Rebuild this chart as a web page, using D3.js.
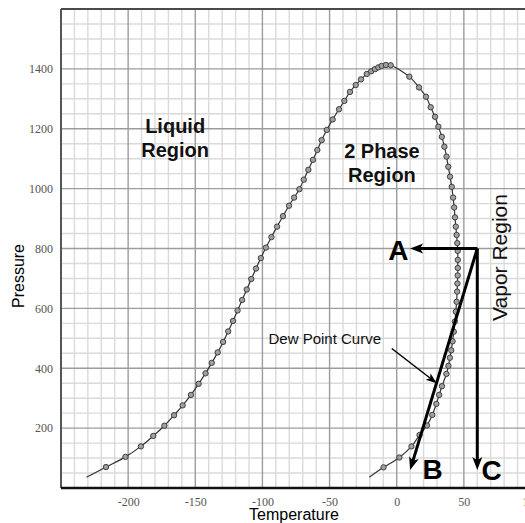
<!DOCTYPE html>
<html>
<head>
<meta charset="utf-8">
<script src="https://cdn.jsdelivr.net/npm/d3@7"></script>
<style>
  body { margin: 0; background: #fff; }
  svg { display: block; }
</style>
</head>
<body>
<svg width="525" height="523"></svg>
<script>
// phase envelope (bubble side, over the top, dew side)
const envelopeT = [
  -231, -216.5, -202, -190.5, -181.3, -173, -165.8, -159.4, -153.2, -147.5,
  -142.4, -137.7, -133.3, -129.3, -125.5, -121.9, -118.5, -115.1, -111.7, -108.3,
  -104.8, -101.2, -97.4, -93.3, -89.1, -84.7, -80.2, -76.4, -72.5, -69.2,
  -65.8, -62.4, -59.1, -55.9, -52.1, -47.7, -43, -39, -34.8, -30.5,
  -26.6, -22.3, -19, -16.2, -13.7, -11.2, -8, -4.5,
  9.4, 16.6, 21.8, 25.3, 28.5, 31, 33.6, 35.5, 37.1, 38.4,
  39.7, 41, 42, 42.8, 43.4, 44, 44.6, 45.1, 45.4, 45.5,
  45.5, 45.4, 45.2, 45, 44.6, 44, 43.3, 42.5, 41.6, 40.6,
  39.6, 38.5, 37, 33.7, 31.6, 29.5, 26.5, 22.5, 17, 11,
  2, -9.8, -20.4
];
const envelopeP = [
  36, 70, 104, 139, 174, 208, 243, 276, 311, 348,
  383, 418, 453, 488, 523, 558, 593, 628, 663, 698,
  733, 768, 803, 838, 873, 908, 943, 970, 998, 1030,
  1063, 1096, 1129, 1162, 1196, 1231, 1265, 1293, 1323, 1346,
  1365, 1383, 1392, 1399, 1405, 1410, 1413, 1412,
  1374, 1338, 1307, 1272, 1240, 1207, 1173, 1140, 1107, 1073,
  1040, 1006, 970, 937, 904, 873, 845, 818, 792, 762,
  735, 710, 683, 656, 622, 589, 556, 522, 490, 460,
  435, 408, 381, 340, 311, 281, 244, 209, 177, 139,
  102, 69, 36
];

const xTicks = [-200, -150, -100, -50, 0, 50, 100];
const yTicks = [200, 400, 600, 800, 1000, 1200, 1400];

// process arrows from the starting point (T, P)
const arrowStart = [60, 800];
const arrowEnds = [[10, 800], [10, 60], [60, 60]];
const arrowLetters = ['A', 'B', 'C'];
const letterPos = [[1.2, 762], [26.7, 29], [70.7, 27]];

const regionNames = [['Liquid', 'Region'], ['2 Phase', 'Region']];
const regionPos = [[-165, 1186], [-11, 1103]];

const dewLabel = 'Dew Point Curve';
const dewLabelPos = [-95.5, 480];
const dewPointer = [[-3.7, 466], [29.8, 350]];

var svg = d3.select('svg'),
    x = d3.scaleLinear().domain([-250, 100]).range([61, 531]),
    y = d3.scaleLinear().domain([0, 1600]).range([488, 9]);

const grid = svg.append('g');

// minor grid
grid.selectAll('.vx').data(d3.range(-250, 101, 10).filter(d => d % 50)).enter()
  .append('line')
  .attr('x1', d => x(d)).attr('x2', d => x(d))
  .attr('y1', y(0)).attr('y2', y(1600))
  .attr('stroke', '#dadada').attr('stroke-width', 1.4);
grid.selectAll('.hy').data(d3.range(0, 1601, 50).filter(d => d % 200)).enter()
  .append('line')
  .attr('y1', d => y(d)).attr('y2', d => y(d))
  .attr('x1', x(-250)).attr('x2', x(100))
  .attr('stroke', '#dadada').attr('stroke-width', 1.4);

// major grid
grid.selectAll('.mx').data(d3.range(-200, 101, 50)).enter()
  .append('line')
  .attr('x1', d => x(d)).attr('x2', d => x(d))
  .attr('y1', y(0)).attr('y2', y(1600))
  .attr('stroke', '#9c9c9c').attr('stroke-width', 1.4);
grid.selectAll('.my').data(d3.range(200, 1601, 200)).enter()
  .append('line')
  .attr('y1', d => y(d)).attr('y2', d => y(d))
  .attr('x1', x(-250)).attr('x2', x(100))
  .attr('stroke', '#9c9c9c').attr('stroke-width', 1.4);

// frame
svg.append('line').attr('x1', x(-250)).attr('x2', x(100)).attr('y1', y(1600)).attr('y2', y(1600))
  .attr('stroke', '#4a4a4a').attr('stroke-width', 2.2);
svg.append('line').attr('x1', x(-250)).attr('x2', x(-250)).attr('y1', y(1600)).attr('y2', y(0))
  .attr('stroke', '#555').attr('stroke-width', 2);
svg.append('line').attr('x1', x(-250)).attr('x2', x(100)).attr('y1', y(0)).attr('y2', y(0))
  .attr('stroke', '#111').attr('stroke-width', 2.5);

// axes
const xAxis = svg.append('g')
  .attr('transform', `translate(0,${y(0)})`)
  .call(d3.axisBottom(x).tickValues(xTicks).tickSize(0).tickPadding(9).tickFormat(d => String(d)));
const yAxis = svg.append('g')
  .attr('transform', `translate(${x(-250)},0)`)
  .call(d3.axisLeft(y).tickValues(yTicks).tickSize(0).tickPadding(8).tickFormat(d => String(d)));
[xAxis, yAxis].forEach(a => {
  a.select('.domain').remove();
  a.selectAll('text')
    .attr('fill', '#555')
    .style('font-family', '"Liberation Serif", "Times New Roman", serif')
    .style('font-size', '12px');
});

svg.append('text')
  .attr('x', 294).attr('y', 520)
  .attr('text-anchor', 'middle')
  .style('font-family', '"Liberation Sans", Arial, sans-serif')
  .style('font-size', '16px')
  .text('Temperature');
svg.append('text')
  .attr('transform', 'translate(24,276) rotate(-90)')
  .attr('text-anchor', 'middle')
  .style('font-family', '"Liberation Sans", Arial, sans-serif')
  .style('font-size', '16px')
  .text('Pressure');

// envelope
const pts = d3.zip(envelopeT, envelopeP);
const line = d3.line()
  .x(d => x(d[0]))
  .y(d => y(d[1]))
  .curve(d3.curveCatmullRom);

svg.append('path')
  .datum(pts)
  .attr('fill', 'none')
  .attr('stroke', '#333')
  .attr('stroke-width', 1.2)
  .attr('d', line);

svg.selectAll('.pt').data(pts.slice(1, -1)).enter()
  .append('circle')
  .attr('cx', d => x(d[0]))
  .attr('cy', d => y(d[1]))
  .attr('r', 2.7)
  .attr('fill', '#a0a0a0')
  .attr('stroke', '#333')
  .attr('stroke-width', 0.9);

// region labels
regionNames.forEach((lines, i) => {
  const t = svg.append('text')
    .attr('text-anchor', 'middle')
    .style('font-family', '"Liberation Sans", Arial, sans-serif')
    .style('font-size', '20px')
    .style('font-weight', 'bold')
    .attr('fill', '#111');
  lines.forEach((s, j) => {
    t.append('tspan')
      .attr('x', x(regionPos[i][0]))
      .attr('y', y(regionPos[i][1]) + j * 24.5)
      .text(s);
  });
});

svg.append('text')
  .attr('transform', `translate(${x(82)},${y(770)}) rotate(-90)`)
  .attr('text-anchor', 'middle')
  .style('font-family', '"Liberation Sans", Arial, sans-serif')
  .style('font-size', '21px')
  .attr('fill', '#111')
  .text('Vapor Region');

// arrows
const drawArrow = (from, to, width, len, half) => {
  const x0 = x(from[0]), y0 = y(from[1]), x1 = x(to[0]), y1 = y(to[1]);
  const dx = x1 - x0, dy = y1 - y0, L = Math.hypot(dx, dy);
  const ux = dx / L, uy = dy / L;
  svg.append('line')
    .attr('x1', x0).attr('y1', y0)
    .attr('x2', x1 - ux * len * 0.7).attr('y2', y1 - uy * len * 0.7)
    .attr('stroke', '#000').attr('stroke-width', width);
  const bx = x1 - ux * len, by = y1 - uy * len;
  const nx = x1 - ux * len * 0.75, ny = y1 - uy * len * 0.75;
  svg.append('path')
    .attr('d', `M${x1},${y1}L${bx - uy * half},${by + ux * half}L${nx},${ny}L${bx + uy * half},${by - ux * half}Z`)
    .attr('fill', '#000');
};

arrowEnds.forEach(e => drawArrow(arrowStart, e, 3, 13, 5));

svg.selectAll('.letter').data(arrowLetters).enter()
  .append('text')
  .attr('x', (d, i) => x(letterPos[i][0]))
  .attr('y', (d, i) => y(letterPos[i][1]))
  .attr('text-anchor', 'middle')
  .style('font-family', '"Liberation Sans", Arial, sans-serif')
  .style('font-size', '28px')
  .style('font-weight', 'bold')
  .text(d => d);

svg.append('text')
  .attr('x', x(dewLabelPos[0]))
  .attr('y', y(dewLabelPos[1]))
  .style('font-family', '"Liberation Sans", Arial, sans-serif')
  .style('font-size', '15px')
  .attr('fill', '#111')
  .text(dewLabel);
drawArrow(dewPointer[0], dewPointer[1], 1.5, 11, 4);
</script>
</body>
</html>
